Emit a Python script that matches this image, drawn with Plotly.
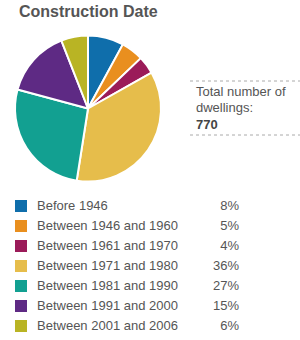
import plotly.graph_objects as go

categories = ["Before 1946", "Between 1946 and 1960", "Between 1961 and 1970",
              "Between 1971 and 1980", "Between 1981 and 1990", "Between 1991 and 2000",
              "Between 2001 and 2006"]
percents = [8, 5, 4, 36, 27, 15, 6]
colors = ["#0f6eab", "#e98f1f", "#9b1b59", "#e6bd4b", "#12a091", "#5e2a84", "#b9b424"]
title = "Construction Date"
total_label = ["Total number of", "dwellings:"]
total_value = 770

W, H = 300, 340
FONT = "Liberation Sans, Arial, sans-serif"
TXT = "#555555"

fig = go.Figure()

# Pie
cx, cy, r = 88, 108.5, 73
fig.add_trace(go.Pie(
    labels=categories, values=percents, sort=False, direction="clockwise", rotation=0,
    marker=dict(colors=colors, line=dict(color="white", width=2)),
    textinfo="none", hoverinfo="label+percent", showlegend=False,
    domain=dict(x=[(cx - r) / W, (cx + r) / W], y=[1 - (cy + r) / H, 1 - (cy - r) / H]),
))

# Legend rows on a pixel-mapped axis
row0, step = 207, 20
ys = [row0 + step * i for i in range(len(categories))]
fig.add_trace(go.Scatter(
    x=[21] * len(categories), y=[y - 1 for y in ys], mode="markers",
    marker=dict(symbol="square", size=12, color=colors, line=dict(width=0)),
    hoverinfo="skip", showlegend=False,
))
fig.add_trace(go.Scatter(
    x=[37] * len(categories), y=ys, mode="text", text=categories,
    textposition="middle right", textfont=dict(family=FONT, size=13, color=TXT),
    hoverinfo="skip", showlegend=False,
))
fig.add_trace(go.Scatter(
    x=[239] * len(categories), y=ys, mode="text", text=[f"{p}%" for p in percents],
    textposition="middle left", textfont=dict(family=FONT, size=13, color=TXT),
    hoverinfo="skip", showlegend=False,
))

fig.update_xaxes(range=[0, W], visible=False, fixedrange=True)
fig.update_yaxes(range=[H, 0], visible=False, fixedrange=True)

# Title
fig.add_annotation(x=17, y=11.5, xref="x", yref="y", text=f"<b>{title}</b>",
                   showarrow=False, xanchor="left", yanchor="middle",
                   font=dict(family=FONT, size=16, color=TXT))

# Info box
for yy in [81, 135]:
    fig.add_shape(type="line", x0=190, x1=300, y0=yy, y1=yy, xref="x", yref="y",
                  line=dict(color="#aaaaaa", width=1, dash="dot"))
fig.add_annotation(x=194, y=91.5, xref="x", yref="y", text=total_label[0], showarrow=False,
                   xanchor="left", yanchor="middle", font=dict(family=FONT, size=13, color=TXT))
fig.add_annotation(x=194, y=107.5, xref="x", yref="y", text=total_label[1], showarrow=False,
                   xanchor="left", yanchor="middle", font=dict(family=FONT, size=13, color=TXT))
fig.add_annotation(x=194, y=124, xref="x", yref="y", text=f"<b>{total_value}</b>", showarrow=False,
                   xanchor="left", yanchor="middle", font=dict(family=FONT, size=13, color="#444444"))

fig.update_layout(width=W, height=H, margin=dict(l=0, r=0, t=0, b=0),
                  paper_bgcolor="white", plot_bgcolor="white", showlegend=False)

fig.write_html("out.html", config={"displayModeBar": False})
